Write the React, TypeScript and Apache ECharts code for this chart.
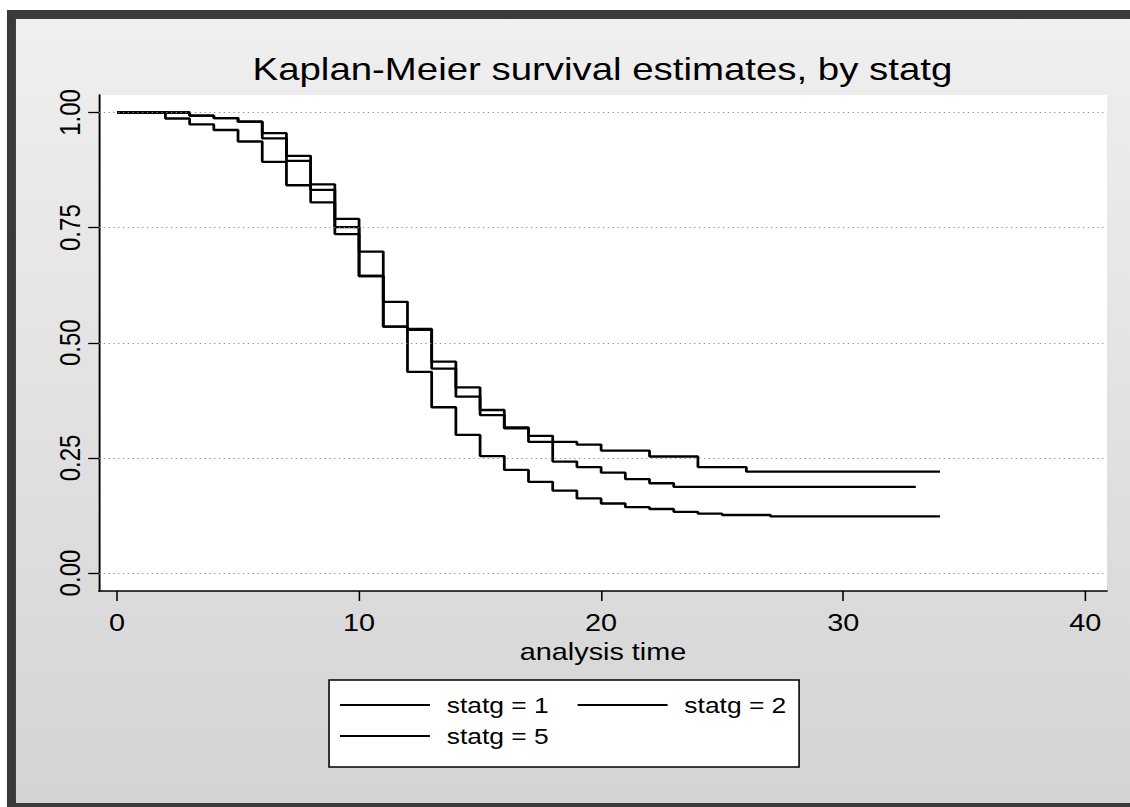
import React, { useEffect, useRef } from "react";
import * as echarts from "echarts";

// ---- data ----
const CHART_TITLE = "Kaplan-Meier survival estimates, by statg";
const X_TITLE = "analysis time";
const SERIES_NAMES = ["statg = 1", "statg = 2", "statg = 5"];
const X_TICKS = [0, 10, 20, 30, 40];
const Y_TICKS = [0, 0.25, 0.5, 0.75, 1];

const TIMES_1 = [0, 3, 4, 5, 6, 7, 8, 9, 10, 11, 12, 13, 14, 15, 16, 17, 18, 19, 20, 22, 24, 26, 34];
const SURV_1 = [1, 0.993, 0.988, 0.98, 0.955, 0.906, 0.844, 0.769, 0.698, 0.589, 0.528, 0.459, 0.403, 0.354, 0.316, 0.298, 0.285, 0.279, 0.266, 0.253, 0.23, 0.22, 0.22];

const TIMES_2 = [0, 3, 4, 5, 6, 7, 8, 9, 10, 11, 12, 13, 14, 15, 16, 17, 18, 19, 20, 21, 22, 23, 33];
const SURV_2 = [1, 0.993, 0.988, 0.98, 0.944, 0.895, 0.832, 0.751, 0.645, 0.535, 0.53, 0.444, 0.383, 0.343, 0.314, 0.285, 0.242, 0.23, 0.218, 0.204, 0.195, 0.187, 0.187];

const TIMES_3 = [0, 2, 3, 4, 5, 6, 7, 8, 9, 10, 11, 12, 13, 14, 15, 16, 17, 18, 19, 20, 21, 22, 23, 24, 25, 27, 34];
const SURV_3 = [1, 0.987, 0.974, 0.962, 0.937, 0.893, 0.842, 0.805, 0.736, 0.645, 0.535, 0.437, 0.36, 0.3, 0.254, 0.224, 0.198, 0.179, 0.162, 0.151, 0.143, 0.139, 0.133, 0.129, 0.126, 0.123, 0.123];

const X_MIN = -0.744;
const X_MAX = 40.9;
const Y_MIN = -0.039;
const Y_MAX = 1.038;

// ---- styling ----
const FONT = "'Liberation Sans', Arial, Helvetica, sans-serif";
const STRETCH = 1.2; // the reference is horizontally stretched
const W = 941.5;
const H = 807;

const zip = (t: number[], s: number[]) => t.map((v, i) => [v, s[i]]);

export default function App() {
  const ref = useRef<HTMLDivElement>(null);

  useEffect(() => {
    if (!ref.current) return;
    document.body.style.overflow = "hidden";
    const chart = echarts.init(ref.current, null, { renderer: "svg", width: W, height: H });

    const textBase = { fontFamily: FONT, color: "#000", fontWeight: "normal" as const };
    const lineSeries = (name: string, data: number[][]) => ({
      name,
      type: "line",
      step: "end",
      data,
      symbol: "none",
      showSymbol: false,
      z: 3,
      lineStyle: { color: "#000", width: 2.3 },
      itemStyle: { color: "#000" },
      emphasis: { disabled: true },
    });

    const legendCommon = {
      orient: "horizontal",
      left: 283.3,
      icon: "rect",
      itemWidth: 75,
      itemHeight: 2,
      itemGap: 24,
      padding: 0,
      selectedMode: false,
      itemStyle: { color: "#000", borderWidth: 0 },
      textStyle: { ...textBase, fontSize: 22, padding: [0, 0, 0, 9] },
    };

    const option = {
      animation: false,
      backgroundColor: "transparent",
      title: {
        text: CHART_TITLE,
        left: 502,
        top: 53,
        textAlign: "center",
        padding: 0,
        textStyle: { ...textBase, fontSize: 32 },
      },
      graphic: [
        {
          type: "rect",
          z: -20,
          silent: true,
          shape: { x: 5.8, y: 10, width: W, height: H - 10 },
          style: { fill: "#3a3a3a" },
        },
        {
          type: "rect",
          z: -19,
          silent: true,
          shape: { x: 13.3, y: 19, width: W, height: 784 },
          style: {
            fill: new echarts.graphic.LinearGradient(0, 0, 0, 1, [
              { offset: 0, color: "#efefef" },
              { offset: 1, color: "#d4d4d4" },
            ]),
          },
        },
        {
          type: "rect",
          z: 1,
          silent: true,
          shape: { x: 274.2, y: 680, width: 391.7, height: 87 },
          style: { fill: "#fff", stroke: "#000", lineWidth: 1.3 },
        },
      ],
      grid: {
        left: 82.5,
        top: 95,
        width: 840,
        height: 496,
        show: true,
        backgroundColor: "#fff",
        borderWidth: 0,
      },
      xAxis: {
        type: "value",
        min: X_MIN,
        max: X_MAX,
        name: X_TITLE,
        nameLocation: "middle",
        nameGap: 47,
        nameTextStyle: { ...textBase, fontSize: 24 },
        axisLine: { show: true, onZero: false, lineStyle: { color: "#000", width: 1.6 } },
        axisTick: { show: true, customValues: X_TICKS, length: 10, lineStyle: { color: "#000", width: 1.3 } },
        axisLabel: { show: true, customValues: X_TICKS, margin: 20, ...textBase, fontSize: 24 },
        splitLine: { show: false },
      },
      yAxis: {
        type: "value",
        min: Y_MIN,
        max: Y_MAX,
        axisLine: { show: true, onZero: false, lineStyle: { color: "#000", width: 1.6 } },
        axisTick: { show: true, customValues: Y_TICKS, length: 9, lineStyle: { color: "#000", width: 1.3 } },
        axisLabel: {
          show: true,
          customValues: Y_TICKS,
          rotate: 90,
          margin: 12,
          ...textBase,
          fontSize: 24,
          formatter: (v: number) => v.toFixed(2),
        },
        splitLine: { show: false },
      },
      legend: [
        { ...legendCommon, top: 694, data: [SERIES_NAMES[0], SERIES_NAMES[1]] },
        { ...legendCommon, top: 725, data: [SERIES_NAMES[2]] },
      ],
      series: [
        {
          name: "grid",
          type: "line",
          data: [],
          z: 1,
          silent: true,
          markLine: {
            silent: true,
            symbol: ["none", "none"],
            label: { show: false },
            lineStyle: { color: "#8a8a8a", type: [1, 3], width: 1 },
            data: Y_TICKS.map((v) => ({ yAxis: v })),
          },
        },
        lineSeries(SERIES_NAMES[0], zip(TIMES_1, SURV_1)),
        lineSeries(SERIES_NAMES[1], zip(TIMES_2, SURV_2)),
        lineSeries(SERIES_NAMES[2], zip(TIMES_3, SURV_3)),
      ],
    };

    chart.setOption(option as any);
    return () => chart.dispose();
  }, []);

  return (
    <div
      ref={ref}
      style={{
        position: "absolute",
        left: 0,
        top: 0,
        width: W,
        height: H,
        transform: `scaleX(${STRETCH})`,
        transformOrigin: "0 0",
      }}
    />
  );
}
